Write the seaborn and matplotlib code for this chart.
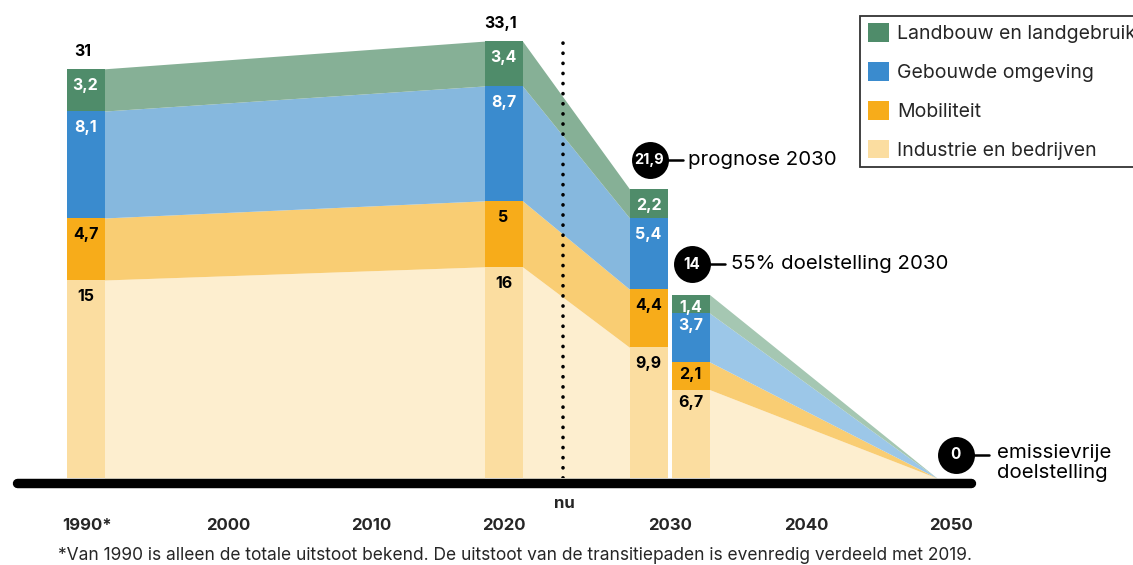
import numpy as np
import matplotlib
matplotlib.use("Agg")
import matplotlib.pyplot as plt
from matplotlib.patches import Patch
import seaborn as sns

# ---------------- data ----------------
sectors = ["Industrie en bedrijven", "Mobiliteit", "Gebouwde omgeving", "Landbouw en landgebruik"]
bar_names = ["1990", "2020", "prognose 2030", "55% doelstelling 2030"]
industrie = [15, 16, 9.9, 6.7]
mobiliteit = [4.7, 5, 4.4, 2.1]
gebouwde = [8.1, 8.7, 5.4, 3.7]
landbouw = [3.2, 3.4, 2.2, 1.4]
totals = [31, 33.1, 21.9, 14]
target_2050 = 0
tick_labels = ["1990*", "2000", "2010", "2020", "2030", "2040", "2050"]
footnote = ("*Van 1990 is alleen de totale uitstoot bekend. De uitstoot van de "
            "transitiepaden is evenredig verdeeld met 2019.")

# ---------------- layout / style ----------------
W, H = 1133, 565
BASE = 478            # pixel row of value 0
PX = 13.2             # pixels per unit
bar_pos = [85.5, 503.5, 648.5, 690.5]
bar_w = 38
zero_pos = 937
tick_pos = [87, 228, 371, 504, 670, 806, 951]
nu_pos = 563

bar_colors = ["#fbdda0", "#f7ac1a", "#3a8bce", "#4f8c6a"]
area_colors = ["#fdeecf", "#f9cd73", "#86b8de", "#86b096"]
area_colors_late = ["#fdeecf", "#f9cd73", "#9cc7e8", "#a5c7b2"]
label_colors = ["black", "black", "white", "white"]

sns.set_theme(style="white")
plt.rcParams["font.family"] = ["Inter", "DejaVu Sans"]


def fmt(v):
    return f"{v:g}".replace(".", ",")


def py(pixel_row):
    return (BASE - pixel_row) / PX


stack = np.array([industrie, mobiliteit, gebouwde, landbouw], dtype=float)
cum = np.cumsum(stack, axis=0)
low = cum - stack

fig = plt.figure(figsize=(W / 100, H / 100), dpi=100)
ax = fig.add_axes([0, (H - BASE) / H, 1, BASE / H])

# ---------- areas (transition paths) ----------
pieces = [
    (bar_pos[0] + bar_w / 2, bar_pos[1] - bar_w / 2, 0, 1, area_colors),
    (bar_pos[1] + bar_w / 2, bar_pos[2] - bar_w / 2, 1, 2, area_colors),
    (bar_pos[3] + bar_w / 2, zero_pos, 3, None, area_colors_late),
]
for xa, xb, ia, ib, cols in pieces:
    for s in range(4):
        lo_b = target_2050 if ib is None else low[s, ib]
        hi_b = target_2050 if ib is None else cum[s, ib]
        ax.fill_between([xa, xb], [low[s, ia], lo_b], [cum[s, ia], hi_b],
                        color=cols[s], lw=0, zorder=1)

# ---------- stacked bars (drawn top-down as cumulative bars) ----------
min_gap = min(np.diff(sorted(bar_pos)))
for s in reversed(range(4)):
    sns.barplot(x=bar_pos, y=cum[s], native_scale=True, width=bar_w / min_gap,
                color=bar_colors[s], saturation=1, errorbar=None, linewidth=0,
                ax=ax, zorder=2)

# segment labels
offsets = [1.25, 1.25, 1.25, 0.95]
for b in range(4):
    for s in range(4):
        ax.text(bar_pos[b], cum[s, b] - offsets[b], fmt(stack[s, b]),
                ha="center", va="center", fontsize=11.5, fontweight="bold",
                color=label_colors[s], zorder=4)

# totals above 1990 and 2020
for b in (0, 1):
    ax.text(bar_pos[b] - 3, totals[b] + 1.3, fmt(totals[b]), ha="center", va="center",
            fontsize=11.5, fontweight="bold", color="black", zorder=4)

# ---------- "nu" dotted line ----------
ax.plot([nu_pos, nu_pos], [0, py(43)], color="black", lw=2.6,
        linestyle=(0, (0.05, 2.75)), dash_capstyle="round", zorder=3)
ax.text(nu_pos + 1, py(504), "nu", ha="center", va="center", fontsize=12,
        fontweight="bold", clip_on=False)

# ---------- baseline ----------
ax.plot([16.5, 970.5], [py(482.5)] * 2, color="black", lw=6.8,
        solid_capstyle="round", clip_on=False, zorder=5)

# ---------- circle annotations ----------
circles = [
    (bar_pos[2] + 1, totals[2] + 2.2, fmt(totals[2]), 10.5, "prognose 2030", 0),
    (bar_pos[3] + 1.5, totals[3] + 2.2, fmt(totals[3]), 11, "55% doelstelling 2030", 0),
    (zero_pos + 18.5, target_2050 + 1.75, fmt(target_2050), 11,
     "emissievrije\ndoelstelling", -0.6),
]
for cx, cy, txt, fs, note, dy in circles:
    ax.scatter([cx], [cy], s=26.6 ** 2, color="black", zorder=6, clip_on=False,
               linewidths=0)
    ax.text(cx, cy, txt, ha="center", va="center", color="white", fontsize=fs,
            fontweight="bold", zorder=7)
    ax.plot([cx + 18, cx + 33], [cy, cy], color="black", lw=1.8, zorder=6,
            clip_on=False)
    ax.text(cx + 39 + (3 if dy else 0), cy + dy, note, ha="left",
            va="center", fontsize=14.7, color="black", linespacing=1.12,
            clip_on=False)

# ---------- axes ----------
ax.set_xlim(0, W)
ax.set_ylim(0, BASE / PX)
ax.set_xlabel("")
ax.set_ylabel("")
ax.set_yticks([])
ax.set_xticks(tick_pos, tick_labels, fontsize=12, fontweight="bold")
ax.tick_params(axis="x", length=0, pad=29)
sns.despine(ax=ax, left=True, bottom=True)
ax.patch.set_alpha(0)

# ---------- legend ----------
order = [3, 2, 1, 0]
handles = [Patch(facecolor=bar_colors[s], edgecolor="none") for s in order]
leg = fig.legend(handles, [sectors[s] for s in order], loc="upper left",
                 bbox_to_anchor=(860 / W, 1 - 15.5 / H), frameon=True,
                 fancybox=False, edgecolor="black", fontsize=14,
                 handlelength=1.1, handleheight=1.1, handletextpad=0.4,
                 labelspacing=0.97, borderpad=0.4, borderaxespad=0)
leg.get_frame().set_linewidth(1.3)

# ---------- footnote ----------
fig.text(58 / W, 1 - 556 / H, footnote, ha="left", va="center", fontsize=12.5)

fig.savefig("out.png", dpi=100)
